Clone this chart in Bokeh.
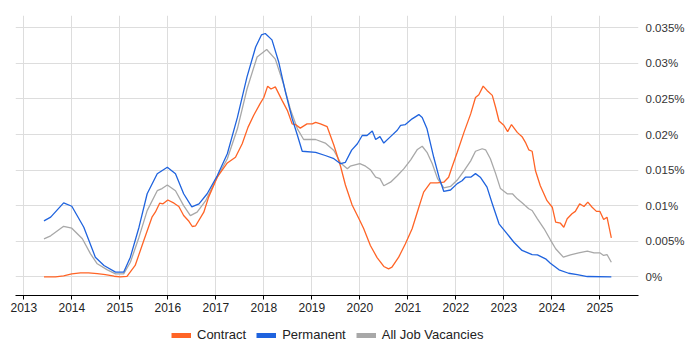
from bokeh.plotting import figure
from bokeh.layouts import column
from bokeh.models import (FixedTicker, CustomJSTickFormatter, Range1d, Legend, LegendItem,
                          ColumnDataSource)
from bokeh.embed import file_html
from bokeh.resources import INLINE

# ---- data (values in percent) ----
contract_x = [2013.42, 2013.66, 2013.83, 2014.00, 2014.18, 2014.35, 2014.53, 2014.70, 2014.88, 2015.01,
              2015.15, 2015.32, 2015.50, 2015.67, 2015.74, 2015.83, 2015.90, 2016.00, 2016.13, 2016.23,
              2016.33, 2016.44, 2016.51, 2016.58, 2016.75, 2016.85, 2017.03, 2017.24, 2017.41, 2017.55,
              2017.67, 2017.79, 2017.92, 2018.00, 2018.08, 2018.15, 2018.24, 2018.38, 2018.49, 2018.59,
              2018.66, 2018.76, 2018.90, 2019.01, 2019.08, 2019.18, 2019.32, 2019.46, 2019.60, 2019.70,
              2019.84, 2019.98, 2020.08, 2020.22, 2020.36, 2020.50, 2020.60, 2020.67, 2020.81, 2020.95,
              2021.09, 2021.23, 2021.33, 2021.47, 2021.61, 2021.75, 2021.85, 2021.92, 2022.03, 2022.17,
              2022.31, 2022.41, 2022.48, 2022.57, 2022.65, 2022.76, 2022.83, 2022.90, 2023.00, 2023.08,
              2023.16, 2023.28, 2023.38, 2023.45, 2023.52, 2023.59, 2023.66, 2023.76, 2023.90, 2024.01,
              2024.08, 2024.18, 2024.25, 2024.32, 2024.42, 2024.49, 2024.58, 2024.67, 2024.75, 2024.84,
              2024.93, 2025.00, 2025.08, 2025.15, 2025.24]
contract_y = [0.0, 0.0, 0.00014, 0.00042, 0.00056, 0.00056, 0.00046, 0.00032, 0.00008, 0.0,
              0.00005, 0.00159, 0.0051, 0.00838, 0.00908, 0.01035, 0.01026, 0.0108, 0.01035, 0.00988,
              0.00862, 0.0078, 0.00707, 0.00717, 0.00908, 0.0112, 0.014, 0.016, 0.0168, 0.0187,
              0.021, 0.0227, 0.0243, 0.0252, 0.0268, 0.0264, 0.0267, 0.0248, 0.0234, 0.0215,
              0.0214, 0.0209, 0.0215, 0.0215, 0.0217, 0.0215, 0.0211, 0.0185, 0.0155, 0.0129,
              0.0101, 0.0082, 0.0068, 0.0044, 0.0027, 0.00145, 0.00112, 0.00135, 0.00276, 0.00464,
              0.00675, 0.00978, 0.0119, 0.0132, 0.0132, 0.0133, 0.014, 0.0154, 0.0175, 0.0203,
              0.0229, 0.0252, 0.0256, 0.0268, 0.0262, 0.0255, 0.0238, 0.0219, 0.0213, 0.0204,
              0.0214, 0.0203, 0.0197, 0.0189, 0.01785, 0.01765, 0.0149, 0.0128, 0.0107, 0.00978,
              0.00767, 0.00753, 0.00697, 0.00815, 0.00886, 0.0092, 0.01026, 0.00988, 0.0105, 0.00978,
              0.0092, 0.0092, 0.00805, 0.00838, 0.00548]

permanent_x = [2013.42, 2013.56, 2013.83, 2014.00, 2014.25, 2014.49, 2014.67, 2014.91, 2015.08, 2015.22,
               2015.40, 2015.57, 2015.78, 2015.99, 2016.16, 2016.33, 2016.50, 2016.65, 2016.82, 2017.03,
               2017.24, 2017.45, 2017.65, 2017.83, 2017.95, 2018.03, 2018.17, 2018.31, 2018.45, 2018.59,
               2018.70, 2018.80, 2019.08, 2019.28, 2019.46, 2019.60, 2019.70, 2019.83, 2019.95, 2020.05,
               2020.15, 2020.26, 2020.33, 2020.42, 2020.50, 2020.64, 2020.78, 2020.85, 2020.95, 2021.09,
               2021.23, 2021.30, 2021.40, 2021.54, 2021.65, 2021.75, 2021.89, 2022.03, 2022.13, 2022.20,
               2022.31, 2022.41, 2022.51, 2022.65, 2022.76, 2022.90, 2023.07, 2023.21, 2023.38, 2023.59,
               2023.70, 2023.87, 2023.97, 2024.15, 2024.35, 2024.53, 2024.74, 2025.24]
permanent_y = [0.00787, 0.00838, 0.0104, 0.00992, 0.00697, 0.00276, 0.00159, 0.00065, 0.00065, 0.00276,
               0.00697, 0.01167, 0.01448, 0.0154, 0.01448, 0.01167, 0.00984, 0.01026, 0.01167, 0.0142,
               0.0173, 0.0224, 0.0281, 0.0323, 0.034, 0.0342, 0.0333, 0.0302, 0.026, 0.02225,
               0.0199, 0.01765, 0.0175, 0.01705, 0.0166, 0.0159, 0.0161, 0.0178, 0.0187, 0.01986,
               0.01986, 0.0205, 0.0193, 0.0197, 0.0188, 0.0197, 0.0206, 0.0213, 0.0214, 0.0222,
               0.0228, 0.0224, 0.0208, 0.0168, 0.014, 0.012, 0.0122, 0.0131, 0.0135, 0.014,
               0.014, 0.0145, 0.014, 0.0126, 0.01026, 0.00745, 0.00604, 0.00486, 0.0037, 0.00313,
               0.00309, 0.00253, 0.0019, 0.00098, 0.0005, 0.00032, 0.00004, 0.0]

all_x = [2013.42, 2013.56, 2013.83, 2014.00, 2014.22, 2014.39, 2014.53, 2014.74, 2014.91, 2015.08,
         2015.22, 2015.40, 2015.57, 2015.78, 2015.88, 2015.99, 2016.16, 2016.33, 2016.47, 2016.61,
         2016.79, 2016.99, 2017.24, 2017.45, 2017.65, 2017.86, 2018.06, 2018.24, 2018.41, 2018.56,
         2018.70, 2018.83, 2019.08, 2019.28, 2019.46, 2019.60, 2019.74, 2019.80, 2020.00, 2020.12,
         2020.22, 2020.33, 2020.42, 2020.50, 2020.64, 2020.78, 2020.92, 2021.06, 2021.20, 2021.30,
         2021.40, 2021.51, 2021.62, 2021.75, 2021.89, 2022.03, 2022.17, 2022.31, 2022.41, 2022.55,
         2022.62, 2022.72, 2022.83, 2022.93, 2023.07, 2023.18, 2023.28, 2023.38, 2023.52, 2023.59,
         2023.70, 2023.84, 2023.97, 2024.08, 2024.24, 2024.39, 2024.56, 2024.74, 2024.88, 2025.00,
         2025.08, 2025.15, 2025.24]
all_y = [0.00534, 0.00576, 0.0071, 0.00683, 0.00534, 0.00323, 0.00183, 0.00098, 0.00042, 0.00042,
         0.00205, 0.00557, 0.0093, 0.0121, 0.0124, 0.0129, 0.0121, 0.01, 0.0086, 0.00908,
         0.0107, 0.0135, 0.0166, 0.0208, 0.0264, 0.0309, 0.03195, 0.0306, 0.0271, 0.0234,
         0.0208, 0.0193, 0.0193, 0.0188, 0.01775, 0.016, 0.0152, 0.01555, 0.0159, 0.01555,
         0.01505, 0.014, 0.0138, 0.0128, 0.0133, 0.0142, 0.0152, 0.01645, 0.0179, 0.01835,
         0.0175, 0.0159, 0.0138, 0.0125, 0.0127, 0.0136, 0.0149, 0.0163, 0.01765, 0.018,
         0.01785, 0.0166, 0.0145, 0.0124, 0.01167, 0.01167, 0.01096, 0.0104, 0.00956, 0.00932,
         0.00815, 0.00675, 0.0052, 0.00394, 0.00276, 0.00309, 0.00337, 0.0036, 0.00337, 0.00337,
         0.003, 0.00313, 0.00205]

year_ticks = [2013, 2014, 2015, 2016, 2017, 2018, 2019, 2020, 2021, 2022, 2023, 2024, 2025]
pct_ticks = [0.0, 0.005, 0.01, 0.015, 0.02, 0.025, 0.03, 0.035]
series_names = ["Contract", "Permanent", "All Job Vacancies"]
series_colors = ["#FF6426", "#1F63DE", "#A8A8A8"]

p = figure(frame_width=623, frame_height=280,
           x_range=Range1d(2012.827, 2025.806), y_range=Range1d(-0.002629, 0.03673),
           output_backend="svg", toolbar_location=None, y_axis_location="right",
           min_border_left=15, min_border_top=15, min_border_right=62, min_border_bottom=27)
p.outline_line_color = None
p.background_fill_color = "white"
p.border_fill_color = "white"

# grid
p.xgrid.ticker = FixedTicker(ticks=year_ticks)
p.ygrid.ticker = FixedTicker(ticks=pct_ticks)
p.xgrid.grid_line_color = "#dddddd"
p.ygrid.grid_line_color = "#dddddd"

# x axis
xa = p.xaxis[0]
xa.ticker = FixedTicker(ticks=year_ticks)
xa.axis_line_color = "black"
xa.axis_line_width = 1
xa.major_tick_line_color = "black"
xa.major_tick_out = 4
xa.major_tick_in = 0
xa.minor_tick_line_color = None
xa.major_label_standoff = 3
xa.major_label_text_font = "Liberation Sans"
xa.major_label_text_font_size = "12px"
xa.major_label_text_color = "#222222"

# y axis (right)
ya = p.yaxis[0]
ya.ticker = FixedTicker(ticks=pct_ticks)
ya.formatter = CustomJSTickFormatter(code="return (+tick.toFixed(4)).toString() + '%';")
ya.axis_line_color = None
ya.major_tick_line_color = None
ya.minor_tick_line_color = None
ya.major_tick_out = 0
ya.major_tick_in = 0
ya.major_label_standoff = 7
ya.major_label_text_font = "Liberation Sans"
ya.major_label_text_font_size = "11.5px"
ya.major_label_text_color = "#333333"

# data lines (grey behind)
series = [(contract_x, contract_y), (permanent_x, permanent_y), (all_x, all_y)]
order = [2, 0, 1]
for i in order:
    xs, ys = series[i]
    src = ColumnDataSource(data=dict(x=xs, y=ys))
    p.line("x", "y", source=src, line_color=series_colors[i], line_width=1.3)

# legend strip as a separate small figure below the chart
lf = figure(width=700, height=28, x_range=Range1d(0, 1), y_range=Range1d(0, 1),
            x_axis_type=None, y_axis_type=None,
            output_backend="svg", toolbar_location=None,
            min_border_left=0, min_border_right=0, min_border_top=0, min_border_bottom=0)
lf.grid.visible = False
lf.outline_line_color = None
lf.background_fill_color = "white"
lf.border_fill_color = "white"

nan = float("nan")
items = []
for name, col in zip(series_names, series_colors):
    r = lf.line(x=[nan], y=[nan], line_color=col, line_width=5)
    items.append(LegendItem(label=name, renderers=[r]))

legend = Legend(items=items, orientation="horizontal", location=(156, 8),
                glyph_width=20, glyph_height=14, label_height=14, label_standoff=6,
                spacing=10, padding=0, margin=0, border_line_color=None,
                background_fill_alpha=0,
                label_text_font="Liberation Sans", label_text_font_size="13px",
                label_text_color="#222222")
lf.add_layout(legend, "center")

layout = column(p, lf, spacing=0)
open("out.html", "w").write(file_html(layout, INLINE))
